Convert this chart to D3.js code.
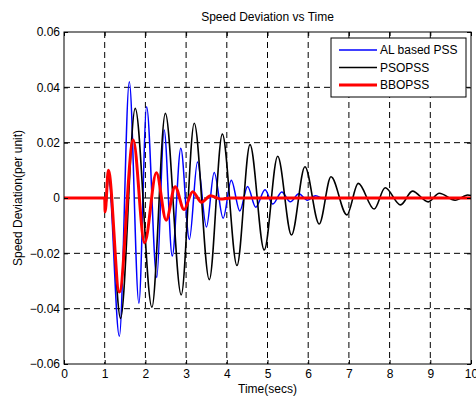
<!DOCTYPE html>
<html>
<head>
<meta charset="utf-8">
<script src="https://cdn.jsdelivr.net/npm/d3@7"></script>
<style>
  body { margin: 0; background: #fff; }
  text { font-family: "Liberation Sans", Arial, Helvetica, sans-serif; font-size: 12px; fill: #000; }
</style>
</head>
<body>
<div id="chart"></div>
<script>
// Values (extrema of each response)

var xTicks = [0, 1, 2, 3, 4, 5, 6, 7, 8, 9, 10];
var yTicks = [-0.06, -0.04, -0.02, 0, 0.02, 0.04, 0.06];

var alTime = [0, 1.0, 1.02, 1.09, 1.36, 1.605, 1.84, 2.03, 2.28, 2.46, 2.66, 2.87, 3.08, 3.28, 3.50, 3.69, 3.91, 4.11, 4.32, 4.51, 4.71, 4.94, 5.13, 5.35, 5.56, 5.77, 5.98, 6.18, 6.40, 6.60, 10];
var alValue = [0, 0, -0.004, 0.008, -0.050, 0.042, -0.038, 0.033, -0.0287, 0.0246, -0.021, 0.018, -0.015, 0.013, -0.0105, 0.0092, -0.0073, 0.0064, -0.0047, 0.0042, -0.0033, 0.003, -0.0022, 0.0022, -0.0014, 0.0015, -0.0008, 0.0008, -0.0003, 0, 0];

var psoTime = [0, 1.0, 1.02, 1.09, 1.39, 1.75, 2.16, 2.49, 2.88, 3.20, 3.57, 3.89, 4.25, 4.57, 4.92, 5.25, 5.59, 5.92, 6.27, 6.56, 6.95, 7.23, 7.62, 7.89, 8.27, 8.56, 8.95, 9.22, 9.61, 9.92, 10];
var psoValue = [0, 0, -0.004, 0.008, -0.0435, 0.0324, -0.0395, 0.0306, -0.035, 0.027, -0.0295, 0.0231, -0.0244, 0.0193, -0.0188, 0.0151, -0.0134, 0.0113, -0.0094, 0.0077, -0.0061, 0.0053, -0.004, 0.0037, -0.0025, 0.0025, -0.0014, 0.0017, -0.0008, 0.0011, 0.0009];

var bboTime = [0, 1.0, 1.01, 1.09, 1.36, 1.70, 1.98, 2.27, 2.51, 2.73, 2.95, 3.16, 3.38, 3.60, 3.85, 4.10, 10];
var bboValue = [0, 0, -0.005, 0.010, -0.034, 0.021, -0.0162, 0.0091, -0.008, 0.0041, -0.0042, 0.0023, -0.0015, 0.0008, -0.0004, 0, 0];

var seriesNames = ["AL based PSS", "PSOPSS", "BBOPSS"];
var seriesColors = ["#0000ff", "#000000", "#ff0000"];
var seriesWidths = [1.5, 1.6, 3];

function drawChart() {
    const width = 476;
    const height = 397;
    const margin = { top: 32, right: 5, bottom: 33, left: 64 };
    const innerW = width - margin.left - margin.right;
    const innerH = height - margin.top - margin.bottom;

    const svg = d3.select("#chart")
        .append("svg")
        .attr("width", width)
        .attr("height", height);

    const x = d3.scaleLinear().domain([0, 10]).range([margin.left, margin.left + innerW]);
    const y = d3.scaleLinear().domain([-0.06, 0.06]).range([margin.top + innerH, margin.top]);

    // white axes background
    svg.append("rect")
        .attr("x", x(0)).attr("y", y(0.06))
        .attr("width", innerW).attr("height", innerH)
        .attr("fill", "#fff");

    // dashed grid
    const grid = svg.append("g").attr("class", "grid");
    grid.selectAll(".vgrid")
        .data(xTicks.slice(1, -1))
        .enter()
        .append("line")
        .attr("x1", (d) => x(d)).attr("x2", (d) => x(d))
        .attr("y1", y(0.06)).attr("y2", y(-0.06))
        .attr("stroke", "#000").attr("stroke-width", 1)
        .attr("stroke-dasharray", "6,4");
    grid.selectAll(".hgrid")
        .data(yTicks.slice(1, -1))
        .enter()
        .append("line")
        .attr("x1", x(0)).attr("x2", x(10))
        .attr("y1", (d) => y(d)).attr("y2", (d) => y(d))
        .attr("stroke", "#000").attr("stroke-width", 1)
        .attr("stroke-dasharray", "6,4");

    // the three responses
    const series = [
        { t: alTime, v: alValue },
        { t: psoTime, v: psoValue },
        { t: bboTime, v: bboValue },
    ];
    const line = d3.line()
        .x((d) => x(d[0]))
        .y((d) => y(d[1]))
        .curve(d3.curveMonotoneX);

    series.forEach(function(s, i) {
        const pts = s.t.map((t, k) => [t, s.v[k]]);
        svg.append("path")
            .datum(pts)
            .attr("fill", "none")
            .attr("stroke", seriesColors[i])
            .attr("stroke-width", seriesWidths[i])
            .attr("stroke-linejoin", "round")
            .attr("d", line);
    });

    // axes, ticks pointing inward like matlab
    svg.append("g")
        .attr("transform", `translate(0,${y(-0.06)})`)
        .call(d3.axisBottom(x).tickValues(xTicks).tickSize(-4).tickPadding(5).tickFormat(d3.format("d")));
    svg.append("g")
        .attr("transform", `translate(${x(0)},0)`)
        .call(d3.axisLeft(y).tickValues(yTicks).tickSize(-4).tickPadding(4).tickFormat((d) => d === 0 ? "0" : d3.format(".2f")(d)));
    svg.append("g")
        .attr("transform", `translate(0,${y(0.06)})`)
        .call(d3.axisTop(x).tickValues(xTicks).tickSize(-4).tickFormat(""));
    svg.append("g")
        .attr("transform", `translate(${x(10)},0)`)
        .call(d3.axisRight(y).tickValues(yTicks).tickSize(-4).tickFormat(""));

    svg.selectAll(".domain").remove();
    svg.selectAll(".tick line").attr("stroke", "#000");
    svg.selectAll(".tick text").attr("font-size", 12).attr("font-family", null).attr("fill", "#000");

    // axes box
    svg.append("rect")
        .attr("x", x(0)).attr("y", y(0.06))
        .attr("width", innerW).attr("height", innerH)
        .attr("fill", "none").attr("stroke", "#000").attr("stroke-width", 1);

    // title and labels
    svg.append("text")
        .attr("x", x(5)).attr("y", 21)
        .attr("text-anchor", "middle")
        .text("Speed Deviation vs Time");
    svg.append("text")
        .attr("x", x(5)).attr("y", 393)
        .attr("text-anchor", "middle")
        .text("Time(secs)");
    svg.append("text")
        .attr("transform", `translate(22,${y(0)}) rotate(-90)`)
        .attr("text-anchor", "middle")
        .text("Speed Deviation(per unit)");

    // legend
    const legend = svg.append("g").attr("class", "legend");
    legend.append("rect")
        .attr("x", 331).attr("y", 38)
        .attr("width", 135).attr("height", 59)
        .attr("fill", "#fff").attr("stroke", "#000").attr("stroke-width", 1);
    seriesNames.forEach(function(name, i) {
        const ly = 50 + i * 17.5;
        legend.append("line")
            .attr("x1", 339).attr("x2", 377)
            .attr("y1", ly).attr("y2", ly)
            .attr("stroke", seriesColors[i])
            .attr("stroke-width", seriesWidths[i]);
        legend.append("text")
            .attr("x", 380).attr("y", ly + 4)
            .text(name);
    });
}

drawChart();
</script>
</body>
</html>
